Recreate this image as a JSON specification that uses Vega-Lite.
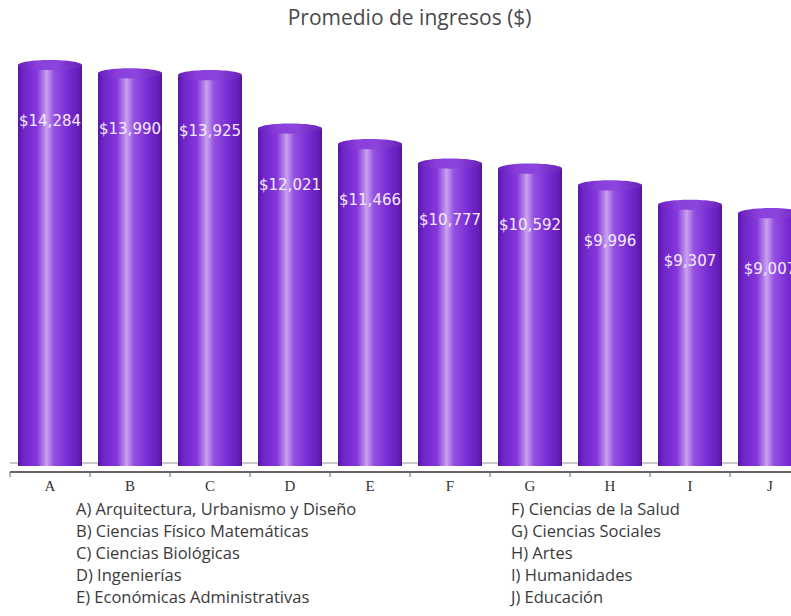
{
  "$schema": "https://vega.github.io/schema/vega-lite/v6.json",
  "padding": {"left": 9, "top": 8, "right": 0, "bottom": 0},
  "background": "white",
  "title": {"text": "Promedio de ingresos ($)", "font": "Open Sans", "fontSize": 21, "fontWeight": "normal", "color": "#4a4a4a", "anchor": "middle", "offset": 16},
  "config": {"view": {"stroke": null}},
  "spacing": 8,
  "resolve": {"scale": {"x": "independent", "y": "independent"}},
  "vconcat": [
    {
      "width": 782,
      "height": 421,
      "data": {"values": [
        {"cat": "A", "value": 14284},
        {"cat": "B", "value": 13990},
        {"cat": "C", "value": 13925},
        {"cat": "D", "value": 12021},
        {"cat": "E", "value": 11466},
        {"cat": "F", "value": 10777},
        {"cat": "G", "value": 10592},
        {"cat": "H", "value": 9996},
        {"cat": "I", "value": 9307},
        {"cat": "J", "value": 9007}
      ]},
      "encoding": {
        "x": {"field": "cat", "type": "nominal", "sort": null,
          "scale": {"range": [0, 800], "paddingInner": 0.2, "paddingOuter": 0.1},
          "axis": {"title": null, "domain": false, "ticks": false, "labelAngle": 0, "labelFont": "Liberation Serif", "labelFontSize": 15, "labelColor": "#333333", "offset": 6, "labelPadding": 6}}
      },
      "layer": [
        {
          "mark": {"type": "rule", "color": "#c8c8c8", "strokeWidth": 1.5, "yOffset": -3},
          "encoding": {"x": null, "y": {"datum": 0, "type": "quantitative", "scale": {"domain": [0, 15000], "nice": false, "zero": true}, "axis": null}}
        },
        {
          "mark": {"type": "bar", "clip": true, "color": {"gradient": "linear", "x1": 0, "x2": 1, "y1": 0, "y2": 0, "stops": [
            {"offset": 0, "color": "#5a169f"},
            {"offset": 0.08, "color": "#7024c8"},
            {"offset": 0.3, "color": "#8438dc"},
            {"offset": 0.45, "color": "#c9a3ef"},
            {"offset": 0.56, "color": "#9550e2"},
            {"offset": 0.8, "color": "#7628d0"},
            {"offset": 0.94, "color": "#661dba"},
            {"offset": 1, "color": "#53148f"}
          ]}},
          "encoding": {"y": {"field": "value", "type": "quantitative", "scale": {"domain": [0, 15000], "nice": false, "zero": true}, "axis": null}}
        },
        {
          "mark": {"type": "point", "clip": true, "filled": true, "opacity": 1, "size": 4096, "shape": "M -1 0 A 1 0.16 0 1 0 1 0 A 1 0.16 0 1 0 -1 0 Z", "color": {"gradient": "linear", "x1": 0, "x2": 1, "y1": 0, "y2": 0, "stops": [
            {"offset": 0, "color": "#5a169f"},
            {"offset": 0.08, "color": "#7024c8"},
            {"offset": 0.3, "color": "#8438dc"},
            {"offset": 0.45, "color": "#c9a3ef"},
            {"offset": 0.56, "color": "#9550e2"},
            {"offset": 0.8, "color": "#7628d0"},
            {"offset": 0.94, "color": "#661dba"},
            {"offset": 1, "color": "#53148f"}
          ]}},
          "encoding": {"y": {"datum": 0, "type": "quantitative", "scale": {"domain": [0, 15000], "nice": false, "zero": true}, "axis": null}}
        },
        {
          "mark": {"type": "point", "clip": true, "filled": true, "opacity": 1, "size": 4096, "shape": "M -1 0 A 1 0.16 0 1 0 1 0 A 1 0.16 0 1 0 -1 0 Z", "color": {"gradient": "linear", "x1": 0, "x2": 1, "y1": 0, "y2": 0, "stops": [
            {"offset": 0, "color": "#6a1fbb"},
            {"offset": 0.3, "color": "#8a3fdc"},
            {"offset": 0.6, "color": "#8c44dc"},
            {"offset": 1, "color": "#6a1fbb"}
          ]}},
          "encoding": {"y": {"field": "value", "type": "quantitative", "scale": {"domain": [0, 15000], "nice": false, "zero": true}, "axis": null}}
        },
        {
          "mark": {"type": "text", "clip": true, "dy": 56, "baseline": "middle", "font": "DejaVu Sans", "fontSize": 15, "color": "#f4ecfd"},
          "encoding": {"y": {"field": "value", "type": "quantitative", "scale": {"domain": [0, 15000], "nice": false, "zero": true}, "axis": null}, "text": {"field": "value", "type": "quantitative", "format": "$,"}}
        },
        {
          "mark": {"type": "rule", "color": "#666666", "strokeWidth": 1, "yOffset": 6},
          "encoding": {"x": null, "y": {"datum": 0, "type": "quantitative", "scale": {"domain": [0, 15000], "nice": false, "zero": true}, "axis": null}}
        },
        {
          "mark": {"type": "rule", "color": "#666666", "strokeWidth": 1, "xOffset": -8, "yOffset": 6, "y2Offset": 11},
          "encoding": {"x": {"field": "cat", "type": "nominal", "sort": null, "bandPosition": 0}, "y": {"datum": 0, "type": "quantitative", "scale": {"domain": [0, 15000], "nice": false, "zero": true}, "axis": null}, "y2": {"datum": 0}}
        }
      ]
    },
    {
      "width": 782,
      "height": 102,
      "data": {"values": [
        {"col": 0, "row": 0, "label": "A) Arquitectura, Urbanismo y Diseño"},
        {"col": 0, "row": 1, "label": "B) Ciencias Físico Matemáticas"},
        {"col": 0, "row": 2, "label": "C) Ciencias Biológicas"},
        {"col": 0, "row": 3, "label": "D) Ingenierías"},
        {"col": 0, "row": 4, "label": "E) Económicas Administrativas"},
        {"col": 1, "row": 0, "label": "F) Ciencias de la Salud"},
        {"col": 1, "row": 1, "label": "G) Ciencias Sociales"},
        {"col": 1, "row": 2, "label": "H) Artes"},
        {"col": 1, "row": 3, "label": "I) Humanidades"},
        {"col": 1, "row": 4, "label": "J) Educación"}
      ]},
      "mark": {"type": "text", "align": "left", "baseline": "middle", "font": "Open Sans", "fontSize": 16.5, "color": "#3a3a3a"},
      "encoding": {
        "x": {"field": "col", "type": "quantitative", "scale": {"domain": [0, 1], "range": [66, 501]}, "axis": null},
        "y": {"field": "row", "type": "quantitative", "scale": {"domain": [0, 4], "range": [9, 97]}, "axis": null},
        "text": {"field": "label"}
      }
    }
  ]
}
